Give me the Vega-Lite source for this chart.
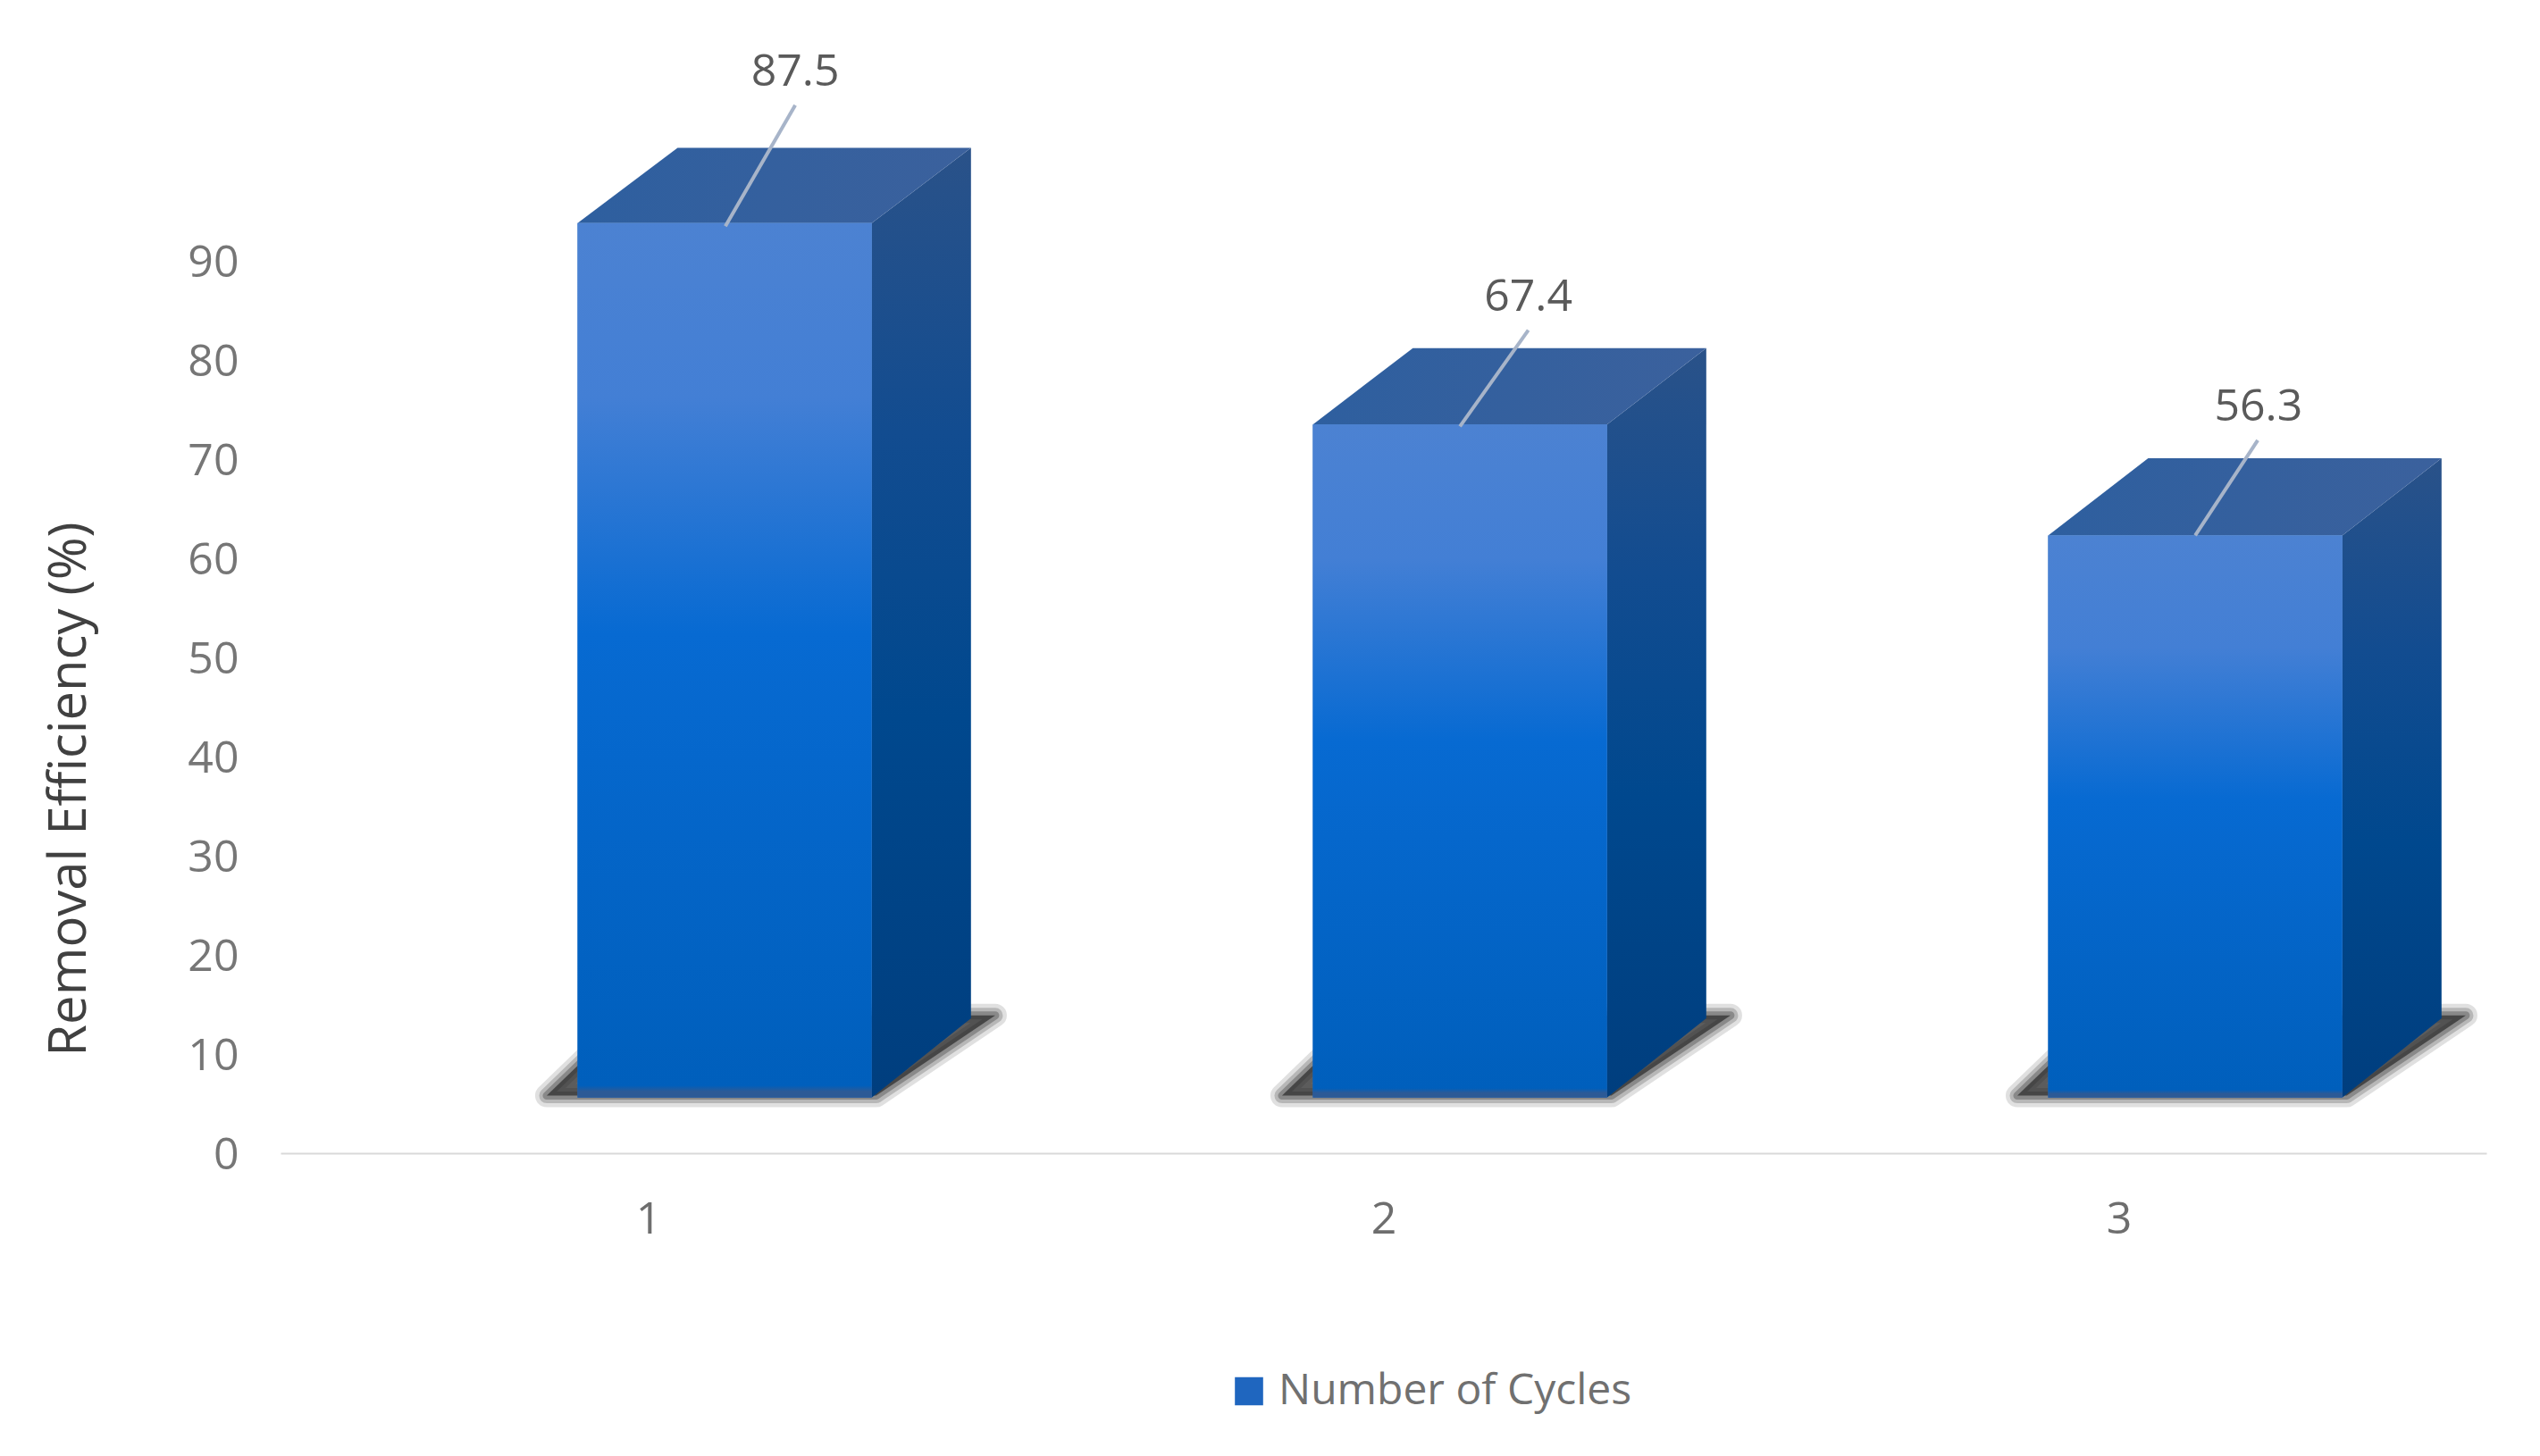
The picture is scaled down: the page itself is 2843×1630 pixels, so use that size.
{
"$schema":"https://vega.github.io/schema/vega-lite/v6.json",
"width":2469,"height":1276.5,
"autosize":{"type":"none"},
"padding":{"left":314,"top":14.5,"right":60,"bottom":339},
"background":"white",
"config":{"view":{"stroke":null}},
"datasets":{
"bars":[
{"cycle":1,"series":"Number of Cycles","value":87.5,"left":0.904,"right":1.304,"bottom":5.6,"top":93.8,"lineX":1.105,"lineY":93.5,"lineX2":1.2,"lineY2":105.7,"labelX":1.2,"labelY":109.0},
{"cycle":2,"series":"Number of Cycles","value":67.4,"left":1.904,"right":2.304,"bottom":5.6,"top":73.5,"lineX":2.104,"lineY":73.3,"lineX2":2.197,"lineY2":83.0,"labelX":2.197,"labelY":86.3},
{"cycle":3,"series":"Number of Cycles","value":56.3,"left":2.904,"right":3.304,"bottom":5.6,"top":62.3,"lineX":3.104,"lineY":62.3,"lineX2":3.189,"lineY2":71.9,"labelX":3.19,"labelY":75.2}
],
"topFaces":[
{"cycle":1,"p":0.904,"a":93.8,"b":93.8},{"cycle":1,"p":1.04,"a":101.4,"b":93.8},{"cycle":1,"p":1.304,"a":101.4,"b":93.8},{"cycle":1,"p":1.439,"a":101.4,"b":101.4},
{"cycle":2,"p":1.904,"a":73.5,"b":73.5},{"cycle":2,"p":2.04,"a":81.2,"b":73.5},{"cycle":2,"p":2.304,"a":81.2,"b":73.5},{"cycle":2,"p":2.439,"a":81.2,"b":81.2},
{"cycle":3,"p":2.904,"a":62.3,"b":62.3},{"cycle":3,"p":3.04,"a":70.1,"b":62.3},{"cycle":3,"p":3.304,"a":70.1,"b":62.3},{"cycle":3,"p":3.439,"a":70.1,"b":70.1}
],
"sideFaces":[
{"cycle":1,"p":1.304,"a":93.8,"b":5.6},{"cycle":1,"p":1.439,"a":101.4,"b":13.6},
{"cycle":2,"p":2.304,"a":73.5,"b":5.6},{"cycle":2,"p":2.439,"a":81.2,"b":13.6},
{"cycle":3,"p":3.304,"a":62.3,"b":5.6},{"cycle":3,"p":3.439,"a":70.1,"b":13.6}
],
"shadows":[
{"cycle":1,"p":0.862,"a":5.8,"b":5.8},{"cycle":1,"p":0.975,"a":13.9,"b":5.8},{"cycle":1,"p":1.31,"a":13.9,"b":5.8},{"cycle":1,"p":1.472,"a":13.9,"b":13.9},
{"cycle":2,"p":1.862,"a":5.8,"b":5.8},{"cycle":2,"p":1.975,"a":13.9,"b":5.8},{"cycle":2,"p":2.31,"a":13.9,"b":5.8},{"cycle":2,"p":2.472,"a":13.9,"b":13.9},
{"cycle":3,"p":2.862,"a":5.8,"b":5.8},{"cycle":3,"p":2.975,"a":13.9,"b":5.8},{"cycle":3,"p":3.31,"a":13.9,"b":5.8},{"cycle":3,"p":3.472,"a":13.9,"b":13.9}
]
},
"layer":[
{"data":{"name":"shadows"},
 "mark":{"type":"area","fillOpacity":0,"fill":"#000000","stroke":"#000000","strokeOpacity":0.12,"strokeWidth":26,"strokeJoin":"round"},
 "encoding":{"x":{"field":"p","type":"quantitative","scale":{"domain":[0.5,3.5],"nice":false,"zero":false},
   "axis":{"title":null,"values":[1,2,3],"format":"d","grid":false,"ticks":false,"domain":true,"domainColor":"#d9d9d9","domainWidth":2,"labelFont":"Open Sans","labelFontSize":50,"labelColor":"#6e6e6e","labelPadding":49}},
  "y":{"field":"a","type":"quantitative","stack":null,"scale":{"domain":[0,115],"nice":false,"zero":false},
   "axis":{"title":"Removal Efficiency (%)","values":[0,10,20,30,40,50,60,70,80,90],"grid":false,"ticks":false,"domain":false,"labelFont":"Open Sans","labelFontSize":50,"labelColor":"#767676","labelPadding":47,"labelOffset":2,"titleFont":"Open Sans","titleFontSize":58,"titleFontWeight":"normal","titleColor":"#404040","titleX":-207,"titleY":868.5}},
  "y2":{"field":"b"},"detail":{"field":"cycle"}}},
{"data":{"name":"shadows"},
 "mark":{"type":"area","fillOpacity":0,"fill":"#000000","stroke":"#000000","strokeOpacity":0.18,"strokeWidth":17,"strokeJoin":"round"},
 "encoding":{"x":{"field":"p","type":"quantitative"},"y":{"field":"a","type":"quantitative","stack":null},"y2":{"field":"b"},"detail":{"field":"cycle"}}},
{"data":{"name":"shadows"},
 "mark":{"type":"area","fillOpacity":0,"fill":"#000000","stroke":"#000000","strokeOpacity":0.25,"strokeWidth":9,"strokeJoin":"round"},
 "encoding":{"x":{"field":"p","type":"quantitative"},"y":{"field":"a","type":"quantitative","stack":null},"y2":{"field":"b"},"detail":{"field":"cycle"}}},
{"data":{"name":"shadows"},
 "mark":{"type":"area","fill":"#303030","fillOpacity":0.75,"strokeWidth":0},
 "encoding":{"x":{"field":"p","type":"quantitative"},"y":{"field":"a","type":"quantitative","stack":null},"y2":{"field":"b"},"detail":{"field":"cycle"}}},
{"data":{"name":"sideFaces"},
 "mark":{"type":"area","color":{"gradient":"linear","x1":0,"y1":0,"x2":0,"y2":1,"stops":[{"offset":0,"color":"#2a5289"},{"offset":0.3,"color":"#124c90"},{"offset":0.6,"color":"#00488e"},{"offset":1,"color":"#003e7e"}]}},
 "encoding":{"x":{"field":"p","type":"quantitative"},"y":{"field":"a","type":"quantitative","stack":null},"y2":{"field":"b"},"detail":{"field":"cycle"}}},
{"data":{"name":"topFaces"},
 "mark":{"type":"area","color":{"gradient":"linear","x1":0,"y1":0,"x2":1,"y2":0,"stops":[{"offset":0,"color":"#2e5f9f"},{"offset":1,"color":"#3b619d"}]}},
 "encoding":{"x":{"field":"p","type":"quantitative"},"y":{"field":"a","type":"quantitative","stack":null},"y2":{"field":"b"},"detail":{"field":"cycle"}}},
{"data":{"name":"bars"},
 "mark":{"type":"rect"},
 "encoding":{"x":{"field":"left","type":"quantitative"},"x2":{"field":"right"},"y":{"field":"bottom","type":"quantitative"},"y2":{"field":"top"},
  "fill":{"field":"series","type":"nominal","scale":{"domain":["Number of Cycles"],"range":["#1f66bf"]},
   "legend":{"title":null,"orient":"none","legendX":1060,"legendY":1519,"symbolType":"square","symbolSize":1000,"symbolStrokeWidth":0,"labelFont":"Open Sans","labelFontSize":48,"labelColor":"#707070","labelOffset":9,"labelLimit":700,"rowPadding":0}}}},
{"data":{"name":"bars"},
 "mark":{"type":"rect","color":{"gradient":"linear","x1":0,"y1":0,"x2":0,"y2":1,"stops":[{"offset":0,"color":"#4c82d2"},{"offset":0.2,"color":"#437fd5"},{"offset":0.47,"color":"#076ad2"},{"offset":0.986,"color":"#005fbc"},{"offset":0.993,"color":"#2c5a96"},{"offset":1,"color":"#2c5a96"}]}},
 "encoding":{"x":{"field":"left","type":"quantitative"},"x2":{"field":"right"},"y":{"field":"bottom","type":"quantitative"},"y2":{"field":"top"}}},
{"data":{"name":"bars"},
 "mark":{"type":"rule","color":"#a7b4c9","strokeWidth":4},
 "encoding":{"x":{"field":"lineX","type":"quantitative"},"x2":{"field":"lineX2"},"y":{"field":"lineY","type":"quantitative"},"y2":{"field":"lineY2"}}},
{"data":{"name":"bars"},
 "mark":{"type":"text","font":"Open Sans","fontSize":50,"color":"#5a5a5a","align":"center","baseline":"middle"},
 "encoding":{"x":{"field":"labelX","type":"quantitative"},"y":{"field":"labelY","type":"quantitative"},"text":{"field":"value","type":"quantitative","format":".1f"}}}
]
}
